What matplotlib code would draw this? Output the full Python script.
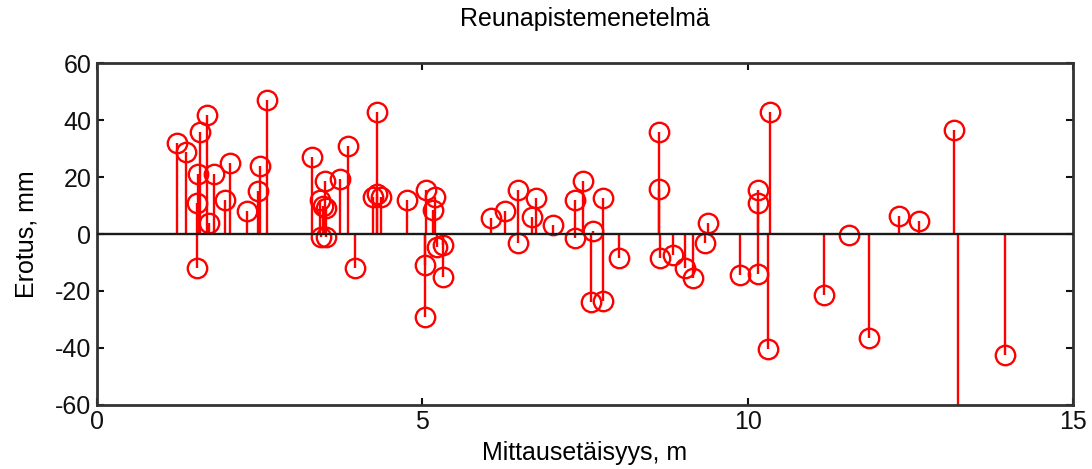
import matplotlib
matplotlib.use("Agg")
import matplotlib.pyplot as plt

plt.rcParams['font.family'] = ['Liberation Sans', 'DejaVu Sans']
plt.rcParams['axes.unicode_minus'] = False

# Mittausetäisyys (m) ja erotus (mm), luettu kuvasta
distance = [1.23, 1.37, 1.53, 1.54, 1.55, 1.58, 1.69, 1.72, 1.80, 1.97,
            2.05, 2.30, 2.48, 2.51, 2.61,
            3.30, 3.43, 3.45, 3.47, 3.50, 3.52, 3.52, 3.73, 3.86, 3.96,
            4.24, 4.30, 4.30, 4.36, 4.76, 5.04, 5.04, 5.06, 5.17, 5.19,
            5.22, 5.32, 5.32,
            6.06, 6.27, 6.47, 6.47, 6.68, 6.75, 7.01, 7.34, 7.34, 7.47,
            7.60, 7.62, 7.78, 7.78, 8.03,
            8.63, 8.63, 8.66, 8.85, 9.03, 9.16, 9.34, 9.39, 9.88,
            10.16, 10.16, 10.16, 10.31, 10.34, 11.18,
            11.56, 11.86, 12.32, 12.63, 13.17, 13.23, 13.95]
difference = [32, 29, 11, -12, 21, 36, 42, 4, 21, 12,
              25, 8, 15, 24, 47,
              27, 12, -1, 10, 18.5, 9, -1, 19.5, 31, -12,
              13, 43, 14, 13, 12, -11, -29, 15.5, 8.5, 13,
              -4.5, -4, -15,
              5.5, 8, 15.5, -3, 6, 12.5, 3, 12, -1.5, 18.5,
              -24, 1, 12.5, -23.5, -8.5,
              36, 16, -8.5, -7.5, -12, -15.5, -3, 4, -14.5,
              15.5, 11, -14, -40.5, 43, -21.5,
              -0.5, -36.5, 6.5, 4.5, 36.5, -70, -42.5]

x_ticks = [0, 5, 10, 15]
y_ticks = [-60, -40, -20, 0, 20, 40, 60]

fig = plt.figure(figsize=(10.92, 4.69), dpi=100)
ax = fig.add_axes([0.0888, 0.137, 0.8938, 0.728])

red = '#ff0000'
ax.vlines(distance, 0, difference, colors=red, linewidth=1.7, zorder=2)
ax.plot(distance, difference, 'o', markersize=14, markerfacecolor='none',
        markeredgecolor=red, markeredgewidth=1.7, zorder=3)
ax.axhline(0, color='#1a1a1a', linewidth=1.7, zorder=4)

ax.set_xlim(0, 15)
ax.set_ylim(-60, 60)
ax.set_xticks(x_ticks)
ax.set_yticks(y_ticks)
ax.tick_params(direction='in', top=True, right=True, length=5, width=1.5,
               labelsize=18, colors='#111111', pad=4)
for s in ax.spines.values():
    s.set_linewidth(2)
    s.set_color('#333333')

ax.set_title('Reunapistemenetelmä', fontsize=18, pad=27)
ax.set_xlabel('Mittausetäisyys, m', fontsize=18, labelpad=5)
ax.set_ylabel('Erotus, mm', fontsize=18, labelpad=12)

fig.savefig('out.png', dpi=100)
